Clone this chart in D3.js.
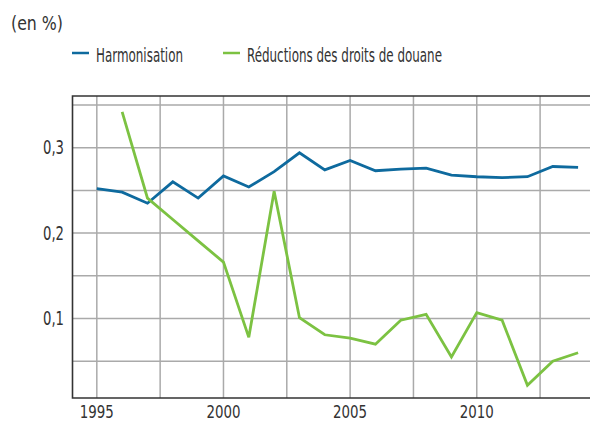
<!DOCTYPE html>
<html>
<head>
<meta charset="utf-8">
<script src="https://cdn.jsdelivr.net/npm/d3@7"></script>
<style>
  body { margin: 0; background: #fff; }
  text { font-family: "DejaVu Sans Condensed", "DejaVu Sans", sans-serif; font-stretch: condensed; fill: #333; }
</style>
</head>
<body>
<div id="chart"></div>
<script>
const W = 590;
const H = 423;

/** Data. */
const years = d3.range(1995, 2015);
const harmonisation = [0.252, 0.248, 0.235, 0.260, 0.241, 0.267, 0.254, 0.272, 0.294, 0.274,
    0.285, 0.273, 0.275, 0.276, 0.268, 0.266, 0.265, 0.266, 0.278, 0.277];
const reductions = [null, 0.342, 0.241, 0.216, 0.191, 0.166, 0.078, 0.249, 0.101, 0.081,
    0.077, 0.070, 0.098, 0.105, 0.055, 0.107, 0.098, 0.022, 0.050, 0.060];
const yTicks = [0.1, 0.2, 0.3];
const xTicks = [1995, 2000, 2005, 2010];
const series = [
    { name: "Harmonisation", values: harmonisation, color: "#0e6a9e" },
    { name: "Réductions des droits de douane", values: reductions, color: "#7cc242" }
];

const LEFT = 72.5, RIGHT = 590, TOP = 96, BOTTOM = 398;

const x = d3.scaleLinear().domain([1994.04, 2014.47]).range([LEFT, RIGHT]);
const y = d3.scaleLinear().domain([0.007, 0.3605]).range([BOTTOM, TOP]);

const svg = d3.select("#chart").append("svg")
    .attr("width", W)
    .attr("height", H);

// grid lines
const grid = svg.append("g").attr("stroke", "#aaa").attr("stroke-width", 1.5);
grid.selectAll(".hg")
    .data(d3.range(0.05, 0.36, 0.05))
    .enter().append("line")
    .attr("x1", LEFT).attr("x2", RIGHT)
    .attr("y1", d => y(d)).attr("y2", d => y(d));
grid.selectAll(".vg")
    .data(d3.range(1995, 2014.5, 2.5))
    .enter().append("line")
    .attr("x1", d => x(d)).attr("x2", d => x(d))
    .attr("y1", TOP).attr("y2", BOTTOM);

// frame: top, left, bottom
svg.append("path")
    .attr("d", `M${RIGHT},${TOP}H${LEFT}V${BOTTOM}H${RIGHT}`)
    .attr("fill", "none")
    .attr("stroke", "#333")
    .attr("stroke-width", 1.6);

// y labels (narrow face, squeezed to the reference width)
svg.append("g").selectAll("text")
    .data(yTicks)
    .enter().append("text")
    .attr("x", 64)
    .attr("y", d => y(d) + 6.5)
    .attr("text-anchor", "end")
    .attr("font-size", 19)
    .attr("textLength", 21)
    .attr("lengthAdjust", "spacingAndGlyphs")
    .text(d => d3.format(".1f")(d).replace(".", ","));

// x labels (kept just inside the bottom edge)
svg.append("g").selectAll("text")
    .data(xTicks)
    .enter().append("text")
    .attr("x", d => x(d) - 17)
    .attr("y", 418)
    .attr("font-size", 17)
    .attr("textLength", 34)
    .attr("lengthAdjust", "spacingAndGlyphs")
    .text(d => d);

// lines
const line = d3.line()
    .defined(d => d.v !== null)
    .x(d => x(d.year))
    .y(d => y(d.v));

series.forEach(s => {
    svg.append("path")
        .datum(years.map((year, i) => ({ year, v: s.values[i] })))
        .attr("d", line)
        .attr("fill", "none")
        .attr("stroke", s.color)
        .attr("stroke-width", 2.8)
        .attr("stroke-linejoin", "miter");
});

// unit
svg.append("text")
    .attr("x", 11)
    .attr("y", 29.5)
    .attr("font-size", 20)
    .attr("textLength", 52)
    .attr("lengthAdjust", "spacingAndGlyphs")
    .text("(en %)");

// legend
const legendX = [72, 223];
const legendW = [87, 195];
series.forEach((s, i) => {
    svg.append("line")
        .attr("x1", legendX[i]).attr("x2", legendX[i] + 17)
        .attr("y1", 53).attr("y2", 53)
        .attr("stroke", s.color)
        .attr("stroke-width", 2.5);
    svg.append("text")
        .attr("x", legendX[i] + 24)
        .attr("y", 61.5)
        .attr("font-size", 20)
        .attr("textLength", legendW[i])
        .attr("lengthAdjust", "spacingAndGlyphs")
        .text(s.name);
});
</script>
</body>
</html>
